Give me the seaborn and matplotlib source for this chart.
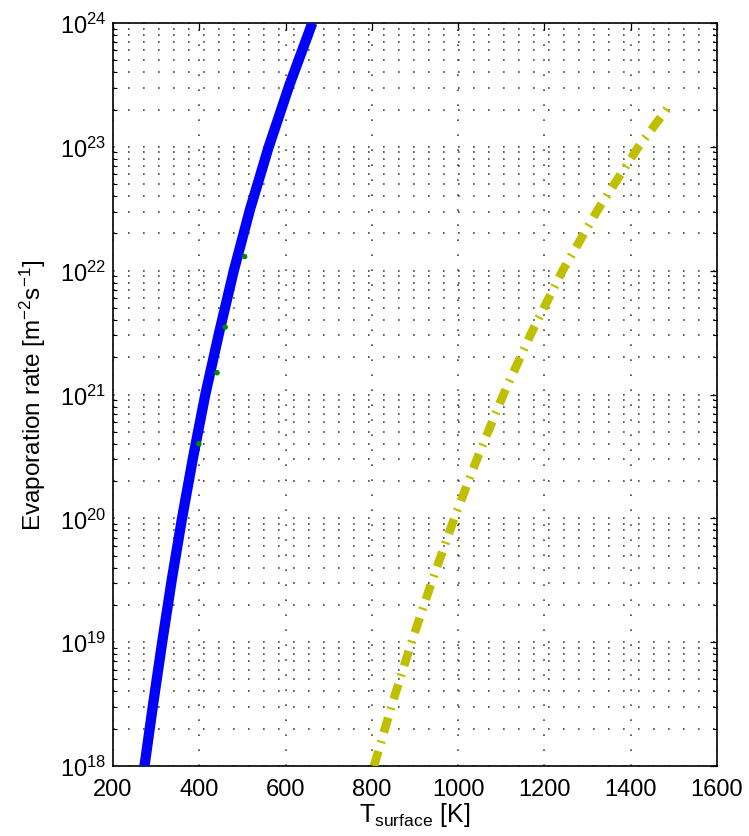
import numpy as np
import pandas as pd
import matplotlib
matplotlib.use("Agg")
import matplotlib.pyplot as plt
import matplotlib.ticker as mticker
import seaborn as sns

# Surface temperature [K] and evaporation rate [m^-2 s^-1]
t_low = [273, 293, 314, 336, 360, 386, 414, 446, 480, 518, 561, 609, 662]
rate_low = [1e18, 3.16e18, 1e19, 3.16e19, 1e20, 3.16e20, 1e21, 3.16e21,
            1e22, 3.16e22, 1e23, 3.16e23, 1e24]

t_high = [805, 847, 892, 940, 991, 1046, 1105, 1170, 1242, 1325, 1418, 1496]
rate_high = [1e18, 3.16e18, 1e19, 3.16e19, 1e20, 3.16e20, 1e21, 3.16e21,
             1e22, 3.16e22, 1e23, 2.3e23]

# Measured points
t_meas = [399, 441, 460, 505]
rate_meas = [4.0e20, 1.5e21, 3.5e21, 1.3e22]

x_ticks = [200, 400, 600, 800, 1000, 1200, 1400, 1600]

sns.set_theme(style="white")
plt.rcParams["font.family"] = ["Liberation Sans", "DejaVu Sans"]
plt.rcParams["mathtext.fontset"] = "custom"
plt.rcParams["mathtext.rm"] = "Liberation Sans"
plt.rcParams["mathtext.it"] = "Liberation Sans:italic"
plt.rcParams["mathtext.bf"] = "Liberation Sans:bold"

fig = plt.figure(figsize=(7.49, 8.37), dpi=100)
ax = fig.add_axes([113 / 749, 1 - 767 / 837, (717 - 113) / 749, (767 - 24) / 837])

df_low = pd.DataFrame({"T": t_low, "rate": rate_low})
df_high = pd.DataFrame({"T": t_high, "rate": rate_high})
df_meas = pd.DataFrame({"T": t_meas, "rate": rate_meas})

sns.lineplot(data=df_low, x="T", y="rate", ax=ax, color="#0000ff",
             linewidth=7.4, solid_capstyle="butt", solid_joinstyle="round", zorder=3)
sns.lineplot(data=df_high, x="T", y="rate", ax=ax, color="#bfbf00",
             linewidth=6.2, zorder=3)
ax.lines[-1].set_dashes([1.8, 1.0, 0.25, 1.0])
ax.lines[-1].set_dash_capstyle("butt")
sns.scatterplot(data=df_meas, x="T", y="rate", ax=ax, color="#008c00",
                s=16, edgecolor="none", zorder=4)

ax.set_yscale("log")
ax.set_xlim(200, 1600)
ax.set_ylim(1e18, 1e24)
ax.set_xticks(x_ticks)
ax.set_xticklabels([str(v) for v in x_ticks])
ax.yaxis.set_major_locator(mticker.LogLocator(base=10, numticks=10))
ax.yaxis.set_minor_locator(mticker.LogLocator(base=10, subs=np.arange(2, 10), numticks=20))
ax.yaxis.set_minor_formatter(mticker.NullFormatter())

grid_style = dict(color="#444444", linestyle=(0, (1, 8)), linewidth=1.2)
ax.grid(True, which="major", axis="both", **grid_style)
ax.grid(True, which="minor", axis="y", **grid_style)
ax.set_axisbelow(True)

for s in ax.spines.values():
    s.set_color("black")
    s.set_linewidth(1.2)

ax.tick_params(axis="x", which="major", pad=9)
ax.tick_params(axis="y", which="major", pad=5)
ax.tick_params(axis="both", which="major", direction="in", length=5,
               width=0.9, color="black", labelsize=17,
               top=True, right=True, labelcolor="black")
ax.tick_params(axis="y", which="minor", direction="in", length=3,
               width=0.8, color="black", left=True, right=True)

ax.set_xlabel(r"$\mathregular{T_{surface}}$ [K]", fontsize=18, color="black", labelpad=0)
ax.set_ylabel(r"Evaporation rate [m$^{\mathregular{-2}}$s$^{\mathregular{-1}}$]",
              fontsize=17.5, color="black", labelpad=8)

fig.savefig("out.png", dpi=100, facecolor="white")
